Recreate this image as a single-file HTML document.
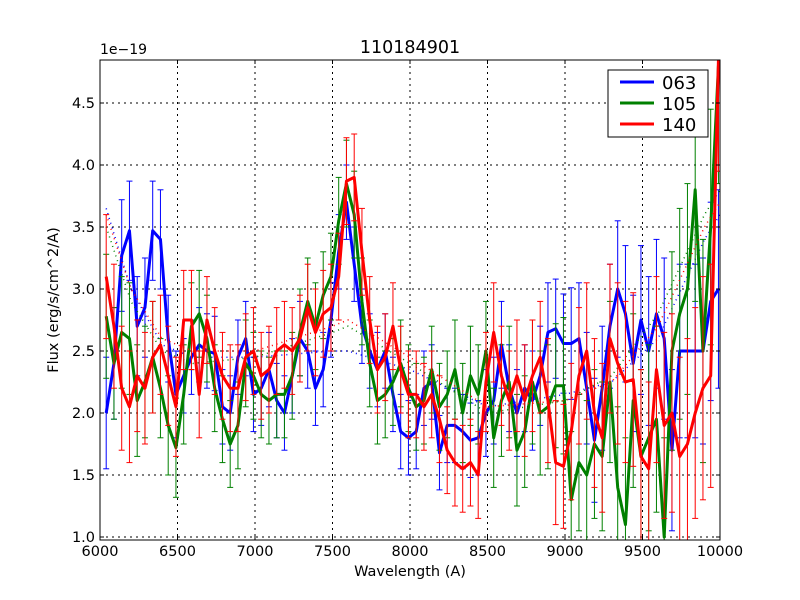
<!DOCTYPE html>
<html><head><meta charset="utf-8"><style>
html,body{margin:0;padding:0;background:#fff;overflow:hidden;width:800px;height:600px}
svg{display:block}
svg text{font-family:"DejaVu Sans","Liberation Sans",sans-serif}
</style></head><body>
<svg id="c" width="800" height="600" xmlns="http://www.w3.org/2000/svg">
<rect width="800" height="600" fill="#fff"/>
<defs><clipPath id="pa"><rect x="100" y="60" width="620" height="480"/></clipPath></defs>
<g id="grid"></g>
<g id="plot" clip-path="url(#pa)"></g>
<rect x="100" y="60" width="620" height="480" fill="none" stroke="#000" stroke-width="1"/>
<g id="ticks"></g>
<text x="410" y="53" font-size="17.5" text-anchor="middle">110184901</text>
<text x="100" y="54" font-size="14">1e−19</text>
<text x="410" y="576" font-size="14.5" text-anchor="middle">Wavelength (A)</text>
<text x="58" y="300" font-size="14.5" text-anchor="middle" transform="rotate(-90 58 300)">Flux (erg/s/cm^2/A)</text>
<g>
<rect x="608" y="70" width="100" height="67" fill="#fff" stroke="#000"/>
<g><line x1="620" y1="82" x2="654" y2="82" stroke="#0000ff" stroke-width="3"/><text x="662" y="89" font-size="18">063</text></g>
<g><line x1="620" y1="103" x2="654" y2="103" stroke="#008000" stroke-width="3"/><text x="662" y="110" font-size="18">105</text></g>
<g><line x1="620" y1="124" x2="654" y2="124" stroke="#ff0000" stroke-width="3"/><text x="662" y="131" font-size="18">140</text></g>
</g>
</svg>
<script>
const wavelengths=[6040,6090,6140,6190,6240,6290,6340,6390,6440,6490,6540,6590,6640,6690,6740,6790,6840,6890,6940,6990,7040,7090,7140,7190,7240,7290,7340,7390,7440,7490,7540,7590,7640,7690,7740,7790,7840,7890,7940,7990,8040,8090,8140,8190,8240,8290,8340,8390,8440,8490,8540,8590,8640,8690,8740,8790,8840,8890,8940,8990,9040,9090,9140,9190,9240,9290,9340,9390,9440,9490,9540,9590,9640,9690,9740,9790,9840,9890,9940,9990];
const flux063=[2.0,2.4,3.27,3.47,2.7,2.85,3.47,3.4,2.6,2.15,2.3,2.45,2.55,2.5,2.48,2.05,2.0,2.45,2.6,2.15,2.2,2.35,2.1,2.0,2.3,2.6,2.5,2.2,2.35,2.75,3.3,3.7,3.2,2.7,2.5,2.35,2.5,2.15,1.85,1.8,1.85,2.2,2.25,1.68,1.9,1.9,1.85,1.78,1.8,2.0,2.1,2.55,2.2,2.0,2.2,2.1,2.3,2.65,2.68,2.56,2.56,2.6,2.2,1.78,2.2,2.7,3.0,2.8,2.4,2.75,2.5,2.8,2.6,1.7,2.5,2.5,2.5,2.5,2.9,3.0];
const flux105=[2.78,2.4,2.65,2.6,2.1,2.25,2.45,2.2,1.9,1.72,2.15,2.7,2.8,2.6,2.2,1.95,1.75,1.9,2.4,2.3,2.15,2.1,2.15,2.15,2.3,2.65,2.9,2.7,2.95,3.1,3.55,3.85,3.6,2.9,2.4,2.1,2.15,2.25,2.4,2.2,2.05,2.1,2.35,2.05,2.15,2.35,2.0,2.3,2.15,2.5,1.8,2.1,2.25,1.7,1.85,2.25,2.0,2.05,2.22,2.22,1.3,1.6,1.5,1.75,1.65,2.25,1.4,1.1,2.1,1.65,1.8,1.95,1.0,2.5,2.8,3.0,3.8,2.5,3.5,4.8];
const flux140=[3.1,2.7,2.2,2.05,2.3,2.2,2.45,2.55,2.3,2.05,2.75,2.75,2.15,2.75,2.5,2.3,2.2,2.2,2.45,2.5,2.3,2.35,2.5,2.55,2.5,2.6,2.85,2.65,2.8,2.85,3.1,3.87,3.9,3.3,2.75,2.35,2.45,2.7,2.35,2.15,2.15,2.05,2.15,1.95,1.7,1.6,1.55,1.6,1.5,2.25,2.65,2.3,2.1,2.3,2.1,2.3,2.45,2.1,1.6,1.57,1.85,2.3,2.5,2.0,1.8,2.6,2.4,2.25,2.27,1.65,1.55,2.35,1.9,2.0,1.65,1.75,2.0,2.2,2.3,4.85];
const err063=[0.45,0.45,0.45,0.4,0.4,0.4,0.4,0.4,0.35,0.35,0.3,0.3,0.3,0.3,0.3,0.3,0.3,0.3,0.3,0.3,0.3,0.3,0.3,0.3,0.3,0.3,0.3,0.3,0.3,0.3,0.3,0.3,0.3,0.3,0.3,0.3,0.3,0.3,0.3,0.3,0.3,0.3,0.3,0.3,0.3,0.3,0.3,0.3,0.3,0.35,0.35,0.35,0.35,0.35,0.35,0.4,0.4,0.4,0.4,0.4,0.45,0.45,0.45,0.5,0.5,0.5,0.55,0.55,0.55,0.6,0.6,0.6,0.65,0.65,0.7,0.7,0.7,0.75,0.8,0.8];
const err105=[0.5,0.45,0.45,0.45,0.45,0.45,0.45,0.4,0.4,0.4,0.4,0.35,0.35,0.35,0.35,0.35,0.35,0.35,0.35,0.35,0.35,0.35,0.35,0.35,0.35,0.35,0.35,0.35,0.35,0.35,0.35,0.35,0.35,0.35,0.35,0.35,0.35,0.35,0.35,0.35,0.35,0.35,0.35,0.35,0.35,0.4,0.4,0.4,0.4,0.4,0.4,0.45,0.45,0.45,0.45,0.5,0.5,0.5,0.5,0.55,0.55,0.55,0.6,0.6,0.6,0.65,0.65,0.7,0.7,0.7,0.75,0.75,0.8,0.8,0.85,0.85,0.9,0.9,0.95,0.95];
const err140=[0.5,0.5,0.5,0.45,0.45,0.45,0.45,0.4,0.4,0.4,0.4,0.4,0.35,0.35,0.35,0.35,0.35,0.35,0.35,0.35,0.35,0.35,0.35,0.35,0.35,0.35,0.35,0.35,0.35,0.35,0.35,0.35,0.35,0.35,0.35,0.35,0.35,0.35,0.35,0.35,0.35,0.35,0.35,0.35,0.35,0.35,0.35,0.35,0.35,0.4,0.4,0.4,0.4,0.45,0.45,0.45,0.45,0.5,0.5,0.5,0.55,0.55,0.55,0.6,0.6,0.6,0.65,0.65,0.7,0.7,0.7,0.75,0.75,0.8,0.8,0.85,0.85,0.9,0.9,0.9];
const modelWave=[6040,6200,6400,6600,7000,7500,7600,8000,8500,9000,9300,9600,9900,10000];
const model063=[3.65,3.0,2.55,2.45,2.45,2.5,2.5,2.35,2.05,2.15,2.25,2.6,3.4,3.6];
const model105=[3.5,2.9,2.5,2.4,2.45,2.65,2.7,2.4,2.0,2.1,2.3,2.8,3.6,3.8];
const model140=[3.6,3.0,2.6,2.5,2.5,2.7,2.75,2.45,2.05,2.1,2.25,2.7,3.5,3.7];
const xTicks=[6000,6500,7000,7500,8000,8500,9000,9500,10000];
const yTicks=[1.0,1.5,2.0,2.5,3.0,3.5,4.0,4.5];
const yTickLabels=["1.0","1.5","2.0","2.5","3.0","3.5","4.0","4.5"];

const NS="http://www.w3.org/2000/svg";
const X=w=>100+(w-6000)/4000*620;
const Y=v=>537-(v-1.0)*124;
const clampY=y=>Math.max(60,Math.min(540,y));
function mk(tag,attrs,parent){const e=document.createElementNS(NS,tag);for(const k in attrs)e.setAttribute(k,attrs[k]);parent.appendChild(e);return e;}
const grid=document.getElementById('grid'),plot=document.getElementById('plot'),ticks=document.getElementById('ticks');
xTicks.forEach(t=>{
  const g=mk('line',{x1:X(t),x2:X(t),y1:60,y2:540,stroke:'#000','stroke-dasharray':'2,4'},grid);
  
  
  mk('line',{x1:X(t),x2:X(t),y1:540,y2:536,stroke:'#000'},ticks);
  mk('line',{x1:X(t),x2:X(t),y1:60,y2:64,stroke:'#000'},ticks);
  const tx=mk('text',{x:X(t),y:556,'font-size':14.5,'text-anchor':'middle'},ticks);
  tx.textContent=t;
  
  
});
yTicks.forEach((t,i)=>{
  const g=mk('line',{x1:100,x2:720,y1:Y(t),y2:Y(t),stroke:'#000','stroke-dasharray':'2,4'},grid);
  
  
  mk('line',{x1:100,x2:104,y1:Y(t),y2:Y(t),stroke:'#000'},ticks);
  mk('line',{x1:716,x2:720,y1:Y(t),y2:Y(t),stroke:'#000'},ticks);
  const tx=mk('text',{x:95,y:Y(t)+5,'font-size':14.5,'text-anchor':'end'},ticks);
  tx.textContent=yTickLabels[i];
  
  
});
const series=[[flux063,err063,model063,'#0000ff','063'],[flux105,err105,model105,'#008000','105'],[flux140,err140,model140,'#ff0000','140']];
series.forEach(([f,e,m,col,name])=>{
  const g=mk('g',{},plot);
  
  
  wavelengths.forEach((w,i)=>{
    const x=X(w);
    const lo=Y(f[i]-e[i]),hi=Y(f[i]+e[i]);
    mk('line',{x1:x,x2:x,y1:clampY(lo),y2:clampY(hi),stroke:col,'stroke-width':1},g);
    if(lo<=540) mk('line',{x1:x-3,x2:x+3,y1:lo,y2:lo,stroke:col,'stroke-width':1},g);
    if(hi>=60) mk('line',{x1:x-3,x2:x+3,y1:hi,y2:hi,stroke:col,'stroke-width':1},g);
  });
  const md=mk('polyline',{points:modelWave.map((w,i)=>X(w)+','+clampY(Y(m[i]))).join(' '),fill:'none',stroke:col,'stroke-width':1.5,'stroke-dasharray':'1,4'},g);
  
  
  const pl=mk('polyline',{points:wavelengths.map((w,i)=>X(w)+','+Y(f[i])).join(' '),fill:'none',stroke:col,'stroke-width':3,'stroke-linejoin':'round'},g);
  
  
});
</script>
</body></html>
